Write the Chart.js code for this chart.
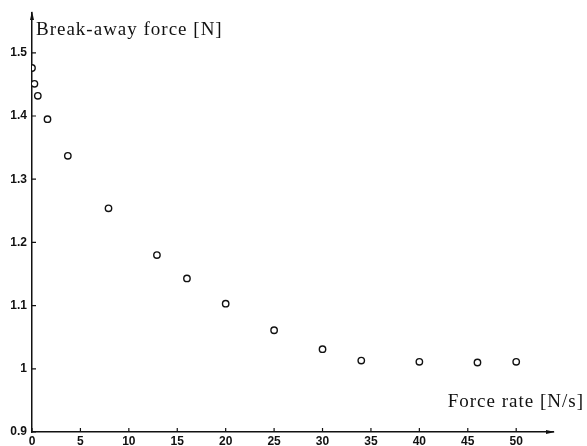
<!DOCTYPE html>
<html>
<head>
<meta charset="utf-8">
<script src="https://cdn.jsdelivr.net/npm/chart.js@4.4.0/dist/chart.umd.min.js"></script>
<style>
    html, body { margin: 0; padding: 0; background: #fff; }
</style>
</head>
<body>
<canvas id="chart-break-away" width="587" height="446"></canvas>
<script>
// values
const forceRates = [0, 0.25, 0.6, 1.6, 3.7, 7.9, 12.9, 16, 20, 25, 30, 34, 40, 46, 50];
const breakAwayForces = [1.476, 1.451, 1.432, 1.395, 1.337, 1.254, 1.18, 1.143, 1.103, 1.061, 1.031, 1.013, 1.011, 1.010, 1.011];

const xTicks = [0, 5, 10, 15, 20, 25, 30, 35, 40, 45, 50];
const yTicks = [0.9, 1, 1.1, 1.2, 1.3, 1.4, 1.5];

const xTitle = 'Force rate [N/s]';
const yTitle = 'Break-away force [N]';

const INK = '#111';

// inward tick marks, arrow heads and the two axis titles
const axisDecor = {
    id: 'axisDecor',
    afterDraw(chart) {
        const ctx = chart.ctx;
        const a = chart.chartArea;
        const x = chart.scales.x;
        const y = chart.scales.y;

        ctx.save();
        ctx.strokeStyle = INK;
        ctx.lineWidth = 1.2;
        ctx.beginPath();
        x.ticks.forEach(t => {
            const px = x.getPixelForValue(t.value);
            ctx.moveTo(px, a.bottom);
            ctx.lineTo(px, a.bottom - 4);
        });
        y.ticks.forEach(t => {
            const py = y.getPixelForValue(t.value);
            ctx.moveTo(a.left, py);
            ctx.lineTo(a.left + 4, py);
        });
        ctx.stroke();

        ctx.fillStyle = INK;
        ctx.beginPath();
        ctx.moveTo(a.left, a.top - 2);
        ctx.lineTo(a.left - 2, a.top + 7);
        ctx.lineTo(a.left + 2, a.top + 7);
        ctx.closePath();
        ctx.fill();
        ctx.beginPath();
        ctx.moveTo(a.right + 2, a.bottom);
        ctx.lineTo(a.right - 7, a.bottom - 2);
        ctx.lineTo(a.right - 7, a.bottom + 2);
        ctx.closePath();
        ctx.fill();

        ctx.font = '19px "Liberation Serif"';
        ctx.letterSpacing = '1px';
        ctx.textBaseline = 'alphabetic';
        ctx.textAlign = 'left';
        ctx.fillText(yTitle, 36, 35);
        ctx.textAlign = 'right';
        ctx.fillText(xTitle, 584, 407);
        ctx.restore();
    }
};

const tickFont = { family: '"Liberation Sans", Arial, sans-serif', size: 12, weight: 'bold', lineHeight: 1 };

new Chart(document.getElementById('chart-break-away'), {
    type: 'scatter',
    data: {
        datasets: [{
            label: yTitle,
            data: forceRates.map((r, i) => ({ x: r, y: breakAwayForces[i] })),
            pointStyle: 'circle',
            pointRadius: 3.2,
            pointBorderWidth: 1.4,
            pointBorderColor: INK,
            pointBackgroundColor: '#fff'
        }]
    },
    options: {
        responsive: false,
        animation: false,
        devicePixelRatio: 1,
        events: [],
        layout: { padding: { top: 13, right: 34, left: 0, bottom: 0 } },
        plugins: {
            legend: { display: false },
            tooltip: { enabled: false }
        },
        scales: {
            x: {
                type: 'linear',
                min: 0,
                max: 53.8,
                afterBuildTicks: s => { s.ticks = xTicks.map(v => ({ value: v })); },
                afterFit: s => { s.height = 14; },
                grid: { display: false, drawTicks: false },
                border: { display: true, color: INK, width: 1.5 },
                ticks: { color: INK, font: tickFont, padding: 4, maxRotation: 0, autoSkip: false }
            },
            y: {
                type: 'linear',
                min: 0.9,
                max: 1.563,
                afterBuildTicks: s => { s.ticks = yTicks.map(v => ({ value: v })); },
                afterFit: s => { s.width = 32; },
                grid: { display: false, drawTicks: false },
                border: { display: true, color: INK, width: 1.5 },
                ticks: {
                    color: INK,
                    font: tickFont,
                    padding: 5,
                    autoSkip: false,
                    callback: v => String(Math.round(v * 10) / 10)
                }
            }
        }
    },
    plugins: [axisDecor]
});
</script>
</body>
</html>
